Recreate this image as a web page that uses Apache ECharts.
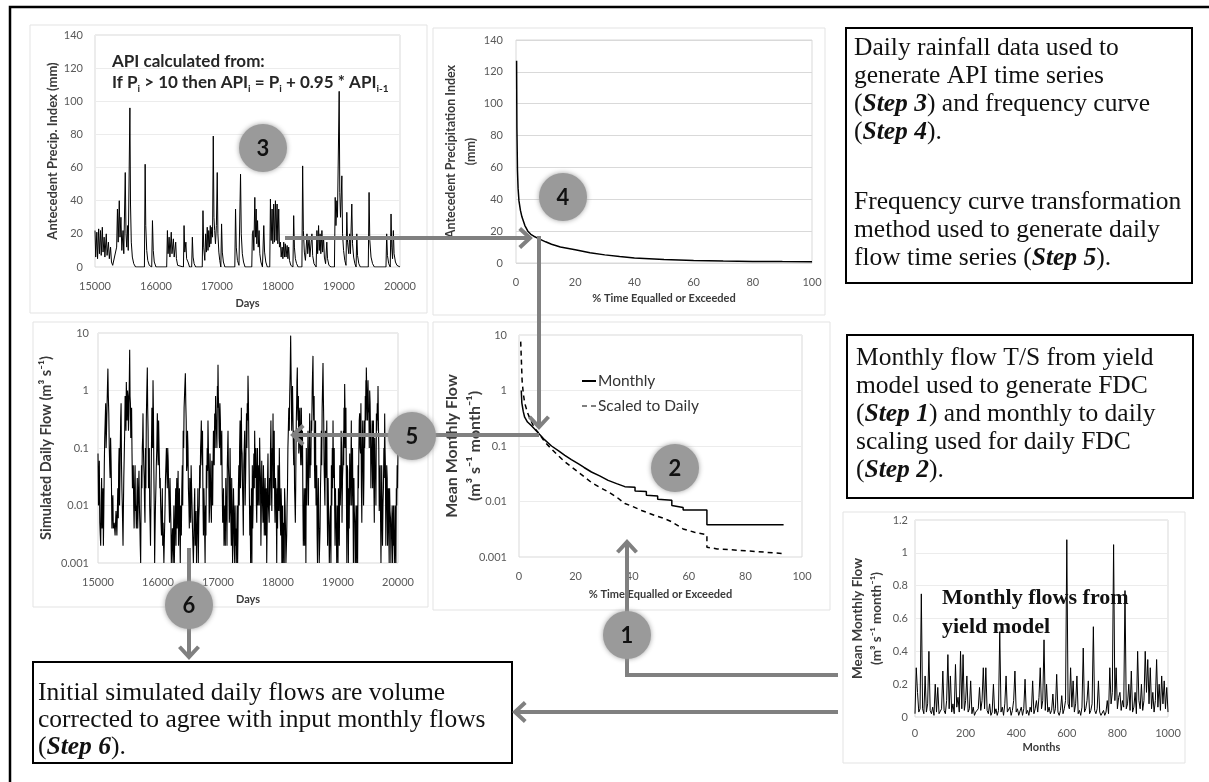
<!DOCTYPE html>
<html><head><meta charset="utf-8">
<script src="https://cdn.jsdelivr.net/npm/echarts/dist/echarts.min.js"></script>
<style>html,body{margin:0;padding:0;background:#fff}#c{width:1209px;height:782px}</style>
</head><body><div id="c"></div>
<script>
// ---------------- DATA ----------------
// Step 3: API time series (days, mm)
const apiDays = [15000,15012,15030,15042,15060,15072,15090,15102,15120,15132,15150,15162,15185,15198,15220,15235,15255,15270,15290,15320,15355,15368,15380,15398,15410,15425,15440,15460,15472,15496,15508,15520,15535,15545,15572,15582,15595,15612,15635,15665,15810,15822,15832,15848,15865,15890,15930,15942,15955,15972,16000,16175,16187,16198,16215,16228,16250,16262,16285,16298,16323,16335,16355,16380,16450,16460,16472,16490,16502,16525,16550,16585,16596,16608,16625,16650,16758,16770,16782,16800,16814,16826,16840,16852,16865,16878,16890,16900,16915,16927,16939,16950,16962,16975,16990,17004,17015,17030,17045,17063,17075,17087,17105,17130,17292,17304,17316,17335,17360,17375,17386,17398,17415,17435,17460,17570,17580,17592,17604,17620,17630,17642,17652,17665,17676,17690,17702,17720,17745,17760,17767,17780,17800,17825,17865,17876,17888,17903,17915,17930,17942,17958,17970,17985,17997,18012,18024,18040,18052,18068,18080,18094,18106,18120,18132,18150,18162,18175,18188,18210,18245,18257,18269,18285,18305,18330,18392,18404,18416,18432,18450,18475,18487,18510,18522,18556,18568,18590,18625,18638,18650,18665,18677,18690,18702,18720,18732,18747,18760,18780,18800,18812,18835,18870,18925,18938,18950,18965,18975,19003,19013,19025,19047,19058,19075,19095,19115,19128,19140,19160,19175,19187,19210,19222,19240,19260,19280,19292,19304,19325,19350,19480,19493,19505,19525,19550,19580,19770,19782,19794,19815,19840,19853,19865,19878,19891,19903,19925,19950,20000];
const apiVals = [22,6,21,5,23,8,22,7,24,9,18,6,20,7,15,5,12,3,1,0,12,35,15,40,18,30,10,22,8,57,20,12,25,10,96,38,15,6,2,0,0,62,25,10,4,1,0,28,10,3,0,0,22,8,18,6,21,8,17,6,15,5,1,0,0,25,9,15,5,3,0,0,18,6,2,0,0,34,12,4,20,9,24,10,22,12,25,14,24,18,79,30,22,14,25,57,20,9,4,0,26,9,3,0,0,35,12,4,1,0,56,20,8,3,0,0,20,22,10,42,18,35,14,28,12,22,8,3,0,0,25,9,3,0,0,41,16,35,14,38,15,40,16,38,14,35,12,15,6,12,5,15,6,14,6,13,5,12,4,1,0,31,12,5,2,0,0,61,22,9,4,20,8,18,6,20,7,2,0,22,8,25,10,20,8,22,9,18,6,2,15,5,1,0,0,42,25,40,30,106,45,30,55,20,10,4,1,33,15,8,20,8,38,14,6,2,0,20,7,2,0,0,45,16,6,2,0,0,20,7,2,0,32,12,5,22,8,3,1,0];

// Step 4: API frequency curve (% time equalled or exceeded, mm)
const apiFdcPct = [0.2,0.3,0.5,0.7,1,1.5,2,3,4,5,6,8,10,12,15,20,25,30,35,40,50,60,70,80,90,100];
const apiFdcVal = [127,85,58,47,39,33,29,23.5,20,18,16.8,15,13.3,11.8,10,8.3,6.5,5.1,4.1,3.2,2.2,1.5,1.2,1.0,0.9,0.85];

// Step 5: simulated daily flow (day, m3/s) - main readings
const dailyFlow = [[15000,0.08],[15015,0.02],[15030,0.005],[15045,0.002],[15060,0.03],[15075,0.008],[15090,0.002],[15105,0.05],[15120,0.3],[15135,0.1],[15150,0.5],[15165,2.4],[15180,0.4],[15195,0.05],[15210,0.15],[15225,0.02],[15240,0.01],[15255,0.004],[15270,0.005],[15285,0.003],[15300,0.008],[15315,0.003],[15330,0.02],[15345,0.05],[15360,0.01],[15378,0.33],[15392,0.05],[15405,0.01],[15417,0.002],[15430,0.03],[15445,0.2],[15460,0.5],[15472,1.4],[15485,0.3],[15500,0.8],[15515,0.4],[15528,5.1],[15540,0.6],[15553,0.3],[15567,0.08],[15580,0.03],[15595,0.01],[15610,0.02],[15625,0.008],[15639,0.004],[15655,0.03],[15670,0.01],[15683,0.04],[15697,0.005],[15711,0.001],[15725,0.05],[15738,0.1],[15750,0.4],[15763,0.05],[15776,0.01],[15790,0.1],[15805,0.3],[15822,2.5],[15835,0.2],[15848,0.05],[15861,0.01],[15875,0.002],[15890,0.08],[15905,0.3],[15917,1.5],[15930,0.05],[15944,0.001],[15958,0.01],[15972,0.05],[15989,0.4],[16003,0.05],[16018,0.1],[16030,0.02],[16044,0.01],[16058,0.003],[16072,0.02],[16085,0.005],[16098,0.001],[16111,0.001],[16125,0.03],[16140,0.1],[16155,0.02],[16170,0.06],[16185,0.01],[16200,0.03],[16215,0.005],[16230,0.002],[16250,0.001],[16265,0.01],[16280,0.003],[16295,0.02],[16306,0.01],[16320,0.004],[16335,0.04],[16350,0.008],[16365,0.003],[16378,0.01],[16389,0.003],[16405,0.05],[16420,0.2],[16435,0.5],[16456,2],[16470,0.3],[16485,0.05],[16500,0.1],[16515,0.01],[16530,0.03],[16545,0.005],[16560,0.02],[16575,0.004],[16590,0.001],[16605,0.01],[16620,0.002],[16635,0.008],[16650,0.003],[16665,0.02],[16680,0.006],[16695,0.05],[16710,0.1],[16722,0.3],[16735,0.05],[16750,0.01],[16765,0.02],[16778,0.003],[16792,0.01],[16806,0.05],[16820,0.1],[16833,0.3],[16846,0.04],[16860,0.01],[16875,0.03],[16890,0.005],[16905,0.02],[16917,0.05],[16930,0.1],[16945,0.4],[16960,0.8],[16975,0.2],[16990,1.2],[17000,2.8],[17012,0.5],[17025,0.1],[17040,0.3],[17056,0.1],[17070,0.02],[17085,0.008],[17100,0.002],[17115,0.01],[17130,0.03],[17145,0.005],[17155,0.05],[17167,0.2],[17180,0.03],[17195,0.008],[17208,0.02],[17222,0.002],[17235,0.01],[17250,0.003],[17265,0.008],[17278,0.001],[17292,0.002],[17305,0.001],[17320,0.01],[17333,0.003],[17347,0.05],[17360,0.1],[17375,0.02],[17389,0.5],[17402,0.08],[17415,0.01],[17430,0.05],[17445,0.2],[17460,0.03],[17475,0.4],[17488,0.6],[17500,1.8],[17512,0.2],[17525,0.05],[17535,0.01],[17544,0.001],[17558,0.02],[17572,0.05],[17585,0.01],[17598,0.08],[17611,0.2],[17625,0.03],[17640,0.01],[17652,0.04],[17665,0.01],[17680,0.05],[17694,0.15],[17708,0.03],[17722,0.008],[17736,0.02],[17750,0.005],[17765,0.015],[17778,0.01],[17792,0.003],[17805,0.02],[17820,0.005],[17833,0.08],[17847,0.01],[17860,0.03],[17875,0.1],[17890,0.02],[17905,0.1],[17917,0.4],[17930,0.05],[17945,0.01],[17958,0.03],[17972,0.008],[17986,0.02],[18000,0.05],[18015,0.008],[18030,0.02],[18045,0.003],[18058,0.01],[18070,0.003],[18083,0.001],[18097,0.005],[18110,0.02],[18125,0.004],[18139,0.001],[18152,0.01],[18165,0.1],[18180,0.5],[18195,0.8],[18211,9],[18222,1],[18235,0.5],[18250,0.3],[18262,0.05],[18276,0.02],[18289,0.005],[18300,0.1],[18311,0.6],[18322,2.5],[18334,0.3],[18346,0.08],[18358,0.4],[18372,0.1],[18389,0.5],[18402,0.05],[18415,0.01],[18430,0.005],[18444,0.002],[18458,0.02],[18472,0.1],[18486,0.03],[18500,0.2],[18514,0.05],[18528,0.4],[18540,0.1],[18555,0.3],[18570,1],[18583,4],[18595,0.3],[18608,0.05],[18622,0.1],[18630,0.03],[18639,0.01],[18652,0.003],[18665,0.01],[18680,0.005],[18694,0.001],[18708,0.02],[18722,0.2],[18736,0.5],[18750,3],[18762,0.3],[18775,0.05],[18790,0.2],[18806,0.08],[18820,0.01],[18835,0.03],[18848,0.005],[18861,0.002],[18875,0.01],[18890,0.05],[18905,0.1],[18917,0.3],[18930,0.03],[18945,0.008],[18958,0.02],[18972,0.004],[18986,0.01],[19000,0.001],[19015,0.01],[19030,0.05],[19045,0.02],[19060,0.1],[19075,0.03],[19090,0.2],[19100,0.5],[19111,1.3],[19125,0.1],[19140,0.02],[19155,0.05],[19167,0.005],[19180,0.02],[19195,0.08],[19208,0.02],[19222,0.3],[19235,0.05],[19250,0.01],[19265,0.03],[19280,0.005],[19293,0.002],[19306,0.001],[19320,0.01],[19335,0.05],[19348,0.1],[19361,0.4],[19375,0.08],[19390,0.02],[19405,0.1],[19420,0.05],[19432,0.03],[19444,0.1],[19455,0.8],[19465,1.5],[19472,2.5],[19485,0.6],[19500,1.5],[19515,0.4],[19528,1],[19542,0.2],[19555,0.05],[19570,0.3],[19583,0.1],[19598,0.02],[19612,0.15],[19625,0.05],[19640,0.4],[19655,0.6],[19667,1.2],[19680,0.1],[19695,0.02],[19710,0.005],[19722,0.005],[19735,0.05],[19750,0.01],[19765,0.1],[19778,0.4],[19790,0.05],[19805,0.01],[19820,0.03],[19833,0.01],[19846,0.004],[19860,0.02],[19875,0.006],[19889,0.003],[19903,0.01],[19918,0.004],[19932,0.002],[19944,0.001],[19958,0.005],[19972,0.02],[19986,0.05],[20000,0.1]];
// Step 5: additional in-between readings of the same daily series
const dailyFlowExtra = [[15008,0.01],[15022,0.06],[15038,0.003],[15052,0.01],[15068,0.004],[15082,0.02],[15098,0.01],[15112,0.15],[15128,0.6],[15142,0.2],[15158,1.2],[15172,0.8],[15188,0.1],[15202,0.03],[15218,0.06],[15232,0.004],[15248,0.015],[15338,0.006],[15352,0.1],[15370,0.08],[15385,0.6],[15398,0.02],[15424,0.01],[15438,0.08],[15452,0.8],[15466,0.2],[15478,0.6],[15492,1.0],[15508,0.2],[15522,1.5],[15534,0.8],[15546,0.15],[15560,0.5],[15574,0.02],[15588,0.05],[15602,0.004],[15618,0.05],[15632,0.01],[15646,0.01],[15662,0.004],[15676,0.02],[15690,0.01],[15704,0.002],[15718,0.01],[15732,0.02],[15744,0.15],[15756,0.1],[15770,0.03],[15783,0.005],[15798,0.02],[15812,0.8],[15828,0.5],[15842,0.02],[15855,0.1],[15868,0.005],[15882,0.01],[15898,0.5],[15910,0.1],[15924,0.4],[15937,0.01],[15950,0.003],[15965,0.02],[15980,0.1],[15996,0.1],[16010,0.3],[16024,0.05],[16037,0.03],[16051,0.005],[16065,0.008],[16078,0.002],[16092,0.005],[16118,0.01],[16132,0.05],[16147,0.04],[16162,0.1],[16178,0.02],[16192,0.005],[16208,0.01],[16222,0.001],[16240,0.004],[16258,0.003],[16272,0.001],[16288,0.008],[16300,0.002],[16313,0.03],[16328,0.01],[16342,0.002],[16357,0.02],[16371,0.001],[16384,0.006],[16397,0.02],[16412,0.01],[16428,0.1],[16445,1.0],[16463,0.6],[16477,0.04],[16492,0.2],[16507,0.02],[16522,0.004],[16538,0.01],[16552,0.05],[16567,0.01],[16582,0.002],[16598,0.003],[16612,0.02],[16628,0.004],[16642,0.001],[16658,0.006],[16672,0.001],[16688,0.01],[16702,0.02],[16716,0.15],[16728,0.08],[16742,0.2],[16757,0.003],[16771,0.01],[16785,0.001],[16799,0.003],[16813,0.02],[16826,0.04],[16840,0.1],[16853,0.005],[16867,0.08],[16882,0.01],[16897,0.06],[16911,0.01],[16924,0.2],[16937,0.05],[16952,0.1],[16967,0.3],[16982,0.1],[16995,0.5],[17006,0.8],[17018,0.15],[17032,0.6],[17048,0.05],[17063,0.2],[17078,0.005],[17092,0.02],[17108,0.005],[17122,0.002],[17138,0.008],[17150,0.002],[17161,0.1],[17173,0.05],[17188,0.005],[17201,0.1],[17215,0.005],[17228,0.03],[17243,0.001],[17258,0.02],[17271,0.002],[17285,0.01],[17299,0.004],[17312,0.003],[17327,0.001],[17340,0.02],[17354,0.01],[17368,0.3],[17382,0.05],[17395,0.1],[17409,0.02],[17422,0.003],[17437,0.1],[17452,0.01],[17467,0.1],[17481,0.1],[17494,0.3],[17506,0.8],[17518,0.05],[17530,0.003],[17550,0.005],[17565,0.001],[17578,0.004],[17591,0.03],[17605,0.02],[17618,0.06],[17632,0.1],[17646,0.005],[17658,0.1],[17672,0.02],[17687,0.01],[17701,0.05],[17715,0.002],[17729,0.06],[17743,0.01],[17757,0.05],[17771,0.003],[17785,0.03],[17798,0.008],[17812,0.001],[17826,0.03],[17840,0.01],[17853,0.005],[17867,0.01],[17882,0.3],[17897,0.008],[17911,0.05],[17924,0.02],[17937,0.2],[17951,0.005],[17965,0.02],[17979,0.001],[17993,0.004],[18007,0.01],[18022,0.1],[18037,0.006],[18051,0.02],[18064,0.001],[18077,0.01],[18090,0.003],[18104,0.001],[18118,0.01],[18132,0.001],[18145,0.003],[18158,0.02],[18172,0.2],[18188,0.2],[18203,2],[18216,3],[18228,0.2],[18242,1.2],[18256,0.1],[18269,0.2],[18283,0.01],[18295,0.02],[18305,0.3],[18316,1.5],[18328,0.5],[18340,0.8],[18352,0.1],[18365,0.5],[18380,0.05],[18395,0.15],[18408,0.2],[18422,0.002],[18437,0.02],[18451,0.005],[18465,0.001],[18479,0.01],[18493,0.05],[18507,0.01],[18521,0.1],[18534,0.03],[18548,0.05],[18562,0.2],[18576,2],[18589,0.6],[18602,0.8],[18615,0.02],[18626,0.3],[18634,0.01],[18645,0.05],[18658,0.001],[18672,0.03],[18687,0.001],[18701,0.004],[18715,0.05],[18729,0.05],[18743,1.2],[18756,0.8],[18768,0.05],[18782,0.01],[18798,0.03],[18813,0.3],[18827,0.002],[18841,0.01],[18855,0.001],[18868,0.005],[18882,0.001],[18897,0.01],[18911,0.02],[18923,0.05],[18937,0.1],[18951,0.002],[18965,0.005],[18979,0.001],[18993,0.01],[19007,0.02],[19022,0.002],[19037,0.01],[19052,0.2],[19067,0.005],[19082,0.05],[19095,0.05],[19105,0.1],[19118,0.4],[19132,0.5],[19147,0.001],[19161,0.04],[19173,0.001],[19187,0.004],[19201,0.01],[19215,0.05],[19228,0.01],[19242,0.1],[19257,0.001],[19272,0.008],[19286,0.001],[19300,0.01],[19313,0.004],[19327,0.001],[19341,0.02],[19354,0.3],[19368,0.1],[19382,0.6],[19397,0.005],[19412,0.3],[19426,0.01],[19438,0.3],[19450,0.2],[19460,0.4],[19468,0.3],[19478,1.2],[19492,0.3],[19507,0.5],[19521,0.1],[19535,0.6],[19548,0.02],[19562,0.1],[19577,0.02],[19590,0.3],[19605,0.005],[19618,0.04],[19632,0.01],[19647,0.2],[19661,0.3],[19673,0.3],[19687,0.008],[19702,0.05],[19716,0.001],[19728,0.05],[19742,0.002],[19757,0.02],[19771,0.03],[19784,0.1],[19797,0.002],[19812,0.05],[19826,0.002],[19840,0.02],[19853,0.001],[19867,0.008],[19882,0.001],[19896,0.003],[19910,0.001],[19925,0.01],[19938,0.003],[19951,0.01],[19965,0.001],[19979,0.01],[19993,0.02]];

// Steps 1-2: flow duration curves (% time, m3/s/month)
const monthlyFdc = [[0.8,1.0],[1.0,0.6],[1.5,0.42],[2,0.33],[3,0.27],[4.5,0.23],[6,0.19],[7.4,0.16],[9,0.13],[11.5,0.1],[14,0.082],[16.2,0.068],[18.5,0.057],[20.9,0.048],[23,0.041],[25.6,0.034],[28.5,0.029],[31.5,0.024],[34.5,0.021],[37.4,0.0185],[41,0.018],[41,0.0155],[45,0.0152],[45,0.013],[49,0.0125],[49,0.011],[54,0.0105],[54,0.0085],[58,0.0078],[58,0.007],[66.4,0.007],[66.4,0.0038],[93.5,0.0038]];
const scaledFdc = [[0.6,7.6],[0.8,4],[1.1,1.5],[1.5,0.9],[2,0.6],[3,0.4],[4,0.3],[5.5,0.21],[7.4,0.16],[9,0.12],[11.5,0.088],[14,0.066],[16.2,0.052],[18.5,0.042],[20.9,0.034],[23,0.028],[25.6,0.022],[28.5,0.018],[31.5,0.015],[34.5,0.012],[37.4,0.0092],[40,0.0082],[43.3,0.0069],[48,0.0056],[51,0.005],[54,0.0043],[58,0.0032],[62,0.0028],[66.4,0.0025],[66.4,0.0015],[70,0.0014],[80,0.0013],[93.5,0.00115]];

// Monthly flows from yield model (every 5th month, 0..1000)
const monthStep = 5;
const monthlyFlow = [0.02,0.3,0.15,0.03,0.05,0.75,0.05,0.02,0.25,0.03,0.08,0.4,0.04,0.02,0.06,0.01,0.2,0.03,0.18,0.02,0.01,0.05,0.28,0.04,0.02,0.1,0.38,0.05,0.25,0.03,0.08,0.02,0.32,0.06,0.12,0.03,0.4,0.05,0.38,0.04,0.1,0.25,0.03,0.05,0.22,0.02,0.06,0.01,0.03,0.02,0.05,0.18,0.04,0.1,0.3,0.05,0.3,0.04,0.02,0.08,0.01,0.03,0.2,0.02,0.05,0.01,0.04,0.52,0.03,0.06,0.01,0.08,0.25,0.03,0.02,0.06,0.01,0.04,0.1,0.28,0.03,0.05,0.01,0.02,0.06,0.01,0.05,0.23,0.02,0.04,0.01,0.06,0.03,0.22,0.02,0.05,0.1,0.03,0.12,0.3,0.05,0.1,0.47,0.04,0.2,0.03,0.06,0.02,0.04,0.14,0.02,0.05,0.26,0.03,0.01,0.04,0.13,0.02,0.05,0.1,1.08,0.08,0.05,0.3,0.06,0.22,0.03,0.08,0.25,0.02,0.04,0.01,0.06,0.42,0.03,0.05,0.1,0.22,0.02,0.04,0.08,0.55,0.04,0.02,0.05,0.22,0.03,0.01,0.02,0.04,0.01,0.03,0.1,0.02,0.3,0.08,0.15,1.05,0.1,0.3,0.05,0.12,0.15,0.04,0.1,0.06,0.77,0.05,0.08,0.2,0.04,0.28,0.03,0.06,0.15,0.02,0.4,0.1,0.05,0.2,0.04,0.1,0.4,0.15,0.35,0.08,0.3,0.05,0.15,0.03,0.1,0.35,0.06,0.2,0.04,0.25,0.08,0.22,0.05,0.18,0.03];

// Texts
const box1Text = ['Daily rainfall data used to','generate API time series','({i|Step 3}) and frequency curve','({i|Step 4}).','Frequency curve transformation','method used to generate daily','flow time series ({i|Step 5}).'];
const box2Text = ['Monthly flow T/S from yield','model used to generate FDC','({i|Step 1}) and monthly to daily','scaling used for daily FDC','({i|Step 2}).'];
const box6Text = ['Initial simulated daily flows are volume','corrected to agree with input monthly flows','({i|Step 6}).'];
const yieldText = ['Monthly flows from','yield model'];
const legendNames = ['Monthly','Scaled to Daily'];
const stepLabels = ['1','2','3','4','5','6'];

// ---------------- LAYOUT ----------------
const SANS = 'Lato';
const SERIF = 'Liberation Serif';
const SERIF_SIZE = 25.5;
const LBL = {color:'#595959', fontSize:11, fontFamily:SANS};
const NM = {color:'#3a3a3a', fontWeight:'bold', fontFamily:SANS};
const GRIDC = '#d9d9d9';
const ARROW = '#808080';
const logFmt = v => v >= 1 ? String(Math.round(v)) : String(+(+v).toPrecision(1));

const grids = [
  {left:95, top:35, width:305, height:232},
  {left:516, top:40, width:296, height:223},
  {left:98, top:333, width:300, height:230},
  {left:519, top:335, width:283, height:222},
  {left:915, top:520, width:253, height:197}
].map(g => Object.assign({show:true, borderColor:GRIDC, borderWidth:1, backgroundColor:'transparent', containLabel:false}, g));

function xA(i, min, max, interval, name, gap, margin) {
  return {gridIndex:i, type:'value', min, max, interval,
    axisLine:{show:false}, axisTick:{show:false}, splitLine:{show:false},
    axisLabel:Object.assign({margin, formatter:v=>String(v)}, LBL),
    name, nameLocation:'middle', nameGap:gap, nameMoveOverlap:false, nameTextStyle:Object.assign({fontSize:11}, NM)};
}
function yA(i, cfg) {
  const base = {gridIndex:i, axisLine:{show:false}, axisTick:{show:false},
    splitLine:{show:true, lineStyle:{color:cfg.split || '#e6e6e6', width:1}},
    nameLocation:'middle', nameRotate:90, nameMoveOverlap:false};
  return Object.assign(base, cfg);
}

const xAxes = [
  xA(0, 15000, 20000, 1000, 'Days', 31, 14),
  xA(1, 0, 100, 20, '% Time Equalled or Exceeded', 30, 14),
  xA(2, 15000, 20000, 1000, 'Days', 31, 14),
  xA(3, 0, 100, 20, '% Time Equalled or Exceeded', 32, 14),
  xA(4, 0, 1000, 200, 'Months', 25, 11)
];
const yAxes = [
  yA(0, {type:'value', min:0, max:140, interval:20, split:'#ececec',
    axisLabel:Object.assign({margin:12}, LBL),
    name:'Antecedent Precip. Index (mm)', nameGap:36, nameTextStyle:Object.assign({fontSize:13}, NM)}),
  yA(1, {type:'value', min:0, max:140, interval:20, split:'#d9d9d9',
    axisLabel:Object.assign({margin:13}, LBL),
    name:'Antecedent Precipitation Index\n(mm)', nameGap:35, nameTextStyle:Object.assign({fontSize:12.5, lineHeight:20}, NM)}),
  yA(2, {type:'log', logBase:10, min:0.001, max:10, split:'#ececec',
    axisLabel:Object.assign({margin:9, formatter:logFmt}, LBL),
    name:'Simulated Daily Flow (m³ s⁻¹)', nameGap:44, nameTextStyle:Object.assign({fontSize:14.5}, NM)}),
  yA(3, {type:'log', logBase:10, min:0.001, max:10, split:'#ececec',
    axisLabel:Object.assign({margin:12, formatter:logFmt}, LBL),
    name:'Mean Monthly Flow\n(m³ s⁻¹ month⁻¹)', nameGap:33, nameTextStyle:Object.assign({fontSize:16, lineHeight:23}, NM)}),
  yA(4, {type:'value', min:0, max:1.2, interval:0.2, split:'#ececec',
    axisLabel:Object.assign({margin:7}, LBL),
    name:'Mean Monthly Flow\n(m³ s⁻¹ month⁻¹)', nameGap:29, nameTextStyle:Object.assign({fontSize:13.5, lineHeight:19}, NM)})
];

const lineS = (xi, data, extra) => Object.assign({type:'line', xAxisIndex:xi, yAxisIndex:xi, data, symbol:'none', silent:true,
  lineStyle:{color:'#000', width:1}, itemStyle:{color:'#000'}}, extra || {});

const dailyAll = dailyFlow.concat(dailyFlowExtra).sort((a,b)=>a[0]-b[0]);

const series = [
  lineS(0, apiDays.map((d,i)=>[d, apiVals[i]])),
  lineS(1, apiFdcPct.map((p,i)=>[p, apiFdcVal[i]]), {lineStyle:{color:'#000', width:1.5}}),
  lineS(2, dailyAll, {lineStyle:{color:'#000', width:1.1}}),
  lineS(3, monthlyFdc, {name:legendNames[0], lineStyle:{color:'#000', width:1.5}}),
  lineS(3, scaledFdc, {name:legendNames[1], lineStyle:{color:'#000', width:1.5, type:[5,4]}}),
  lineS(4, monthlyFlow.map((v,i)=>[i*monthStep, v]))
];

// ---------------- GRAPHICS ----------------
const G = [];
G.push({type:'rect', shape:{x:10, y:7, width:1230, height:800}, style:{fill:'none', stroke:'#000', lineWidth:2.5}, z:1});
[[30,25,397,288],[433,28,392,287],[33,322,395,285],[433,322,397,288],[843,512,342,251]].forEach(r=>{
  G.push({type:'rect', shape:{x:r[0], y:r[1], width:r[2], height:r[3]}, style:{fill:'none', stroke:'#e3e3e3', lineWidth:1}, z:1});
});
function box(x,y,w,h){ G.push({type:'rect', shape:{x,y,width:w,height:h}, style:{fill:'#fff', stroke:'#000', lineWidth:2}, z:40}); }
const serifRich = {i:{fontFamily:SERIF, fontSize:SERIF_SIZE, fontStyle:'italic', fontWeight:'bold', fill:'#111'}};
function serifLines(lines, x, ys){
  lines.forEach((t,k)=>G.push({type:'text', x, y:ys[k], z:41,
    style:{text:t, fontFamily:SERIF, fontSize:SERIF_SIZE, fill:'#111', align:'left', verticalAlign:'middle', textAlign:'left', textVerticalAlign:'middle', rich:serifRich}}));
}
box(846,28,346,255);
serifLines(box1Text, 854, [48,76,104,132,202,230,258]);
box(847,335,346,163);
serifLines(box2Text, 856, [358,386,414,442,470]);
box(33,662,479,101);
serifLines(box6Text, 38, [693,720,747]);

yieldText.forEach((t,k)=>G.push({type:'text', x:942, y:[598,627][k], z:41,
  style:{text:t, fontFamily:SERIF, fontSize:22, fontWeight:'bold', fill:'#111', align:'left', verticalAlign:'middle', textAlign:'left', textVerticalAlign:'middle'}}));

const fr = {
  b:{fontFamily:SANS, fontSize:17, fontWeight:'bold', fill:'#262626', lineHeight:22, verticalAlign:'middle'},
  s:{fontFamily:SANS, fontSize:10, fontWeight:'bold', fill:'#262626', verticalAlign:'bottom'}
};
G.push({type:'text', x:112, y:62, z:41, style:{text:'{b|API calculated from:}', rich:fr, align:'left', verticalAlign:'middle', textAlign:'left', textVerticalAlign:'middle'}});
G.push({type:'text', x:112, y:83, z:41, style:{text:'{b|If P}{s|i}{b| > 10 then API}{s|i}{b| = P}{s|i}{b| + 0.95 * API}{s|i-1}', rich:fr, align:'left', verticalAlign:'middle', textAlign:'left', textVerticalAlign:'middle'}});

function arrow(pts){
  const n = pts.length, [x1,y1] = pts[n-2], [x2,y2] = pts[n-1];
  const ang = Math.atan2(y2-y1, x2-x1), L = 14, a = Math.PI/4.2;
  const h1 = [x2 - L*Math.cos(ang-a), y2 - L*Math.sin(ang-a)];
  const h2 = [x2 - L*Math.cos(ang+a), y2 - L*Math.sin(ang+a)];
  G.push({type:'polyline', shape:{points:pts}, style:{stroke:ARROW, lineWidth:4, fill:'none'}, z:50});
  G.push({type:'polyline', shape:{points:[h1,[x2,y2],h2]}, style:{stroke:ARROW, lineWidth:4, fill:'none'}, z:50});
}
arrow([[285,238],[530,238]]);
arrow([[539,236],[539,427]]);
arrow([[539,435],[293,435]]);
arrow([[189,548],[189,657]]);
arrow([[838,675],[627,675],[627,542]]);
arrow([[838,712],[515,712]]);

const circlePos = [[627,635],[675,468],[263,148],[563,197],[412,436],[189,605]];
stepLabels.forEach((s,k)=>{
  const [cx,cy] = circlePos[k];
  G.push({type:'circle', shape:{cx, cy, r:24}, style:{fill:'#9a9a9a', shadowBlur:5, shadowColor:'rgba(150,150,150,0.9)'}, z:60});
  G.push({type:'text', x:cx, y:cy+1, z:61, style:{text:s, fontFamily:SANS, fontSize:22, fontWeight:'bold', fill:'#111', align:'center', verticalAlign:'middle', textAlign:'center', textVerticalAlign:'middle'}});
});

const chart = echarts.init(document.getElementById('c'), null, {renderer:'canvas'});
chart.setOption({
  animation:false,
  backgroundColor:'#fff',
  grid:grids, xAxis:xAxes, yAxis:yAxes, series,
  legend:{
    data:[{name:legendNames[0], icon:'rect'}, {name:legendNames[1], icon:'path://M0,0h5v1h-5zM9,0h5v1h-5z'}],
    orient:'vertical', left:577, top:367, itemWidth:14, itemHeight:2, itemGap:7,
    itemStyle:{color:'#000', borderWidth:0},
    textStyle:{fontFamily:SANS, fontSize:15.5, color:'#333', padding:[0,0,0,-3], lineHeight:18}
  },
  graphic:{elements:G.map(e=>Object.assign({silent:true}, e))}
});
</script></body></html>
